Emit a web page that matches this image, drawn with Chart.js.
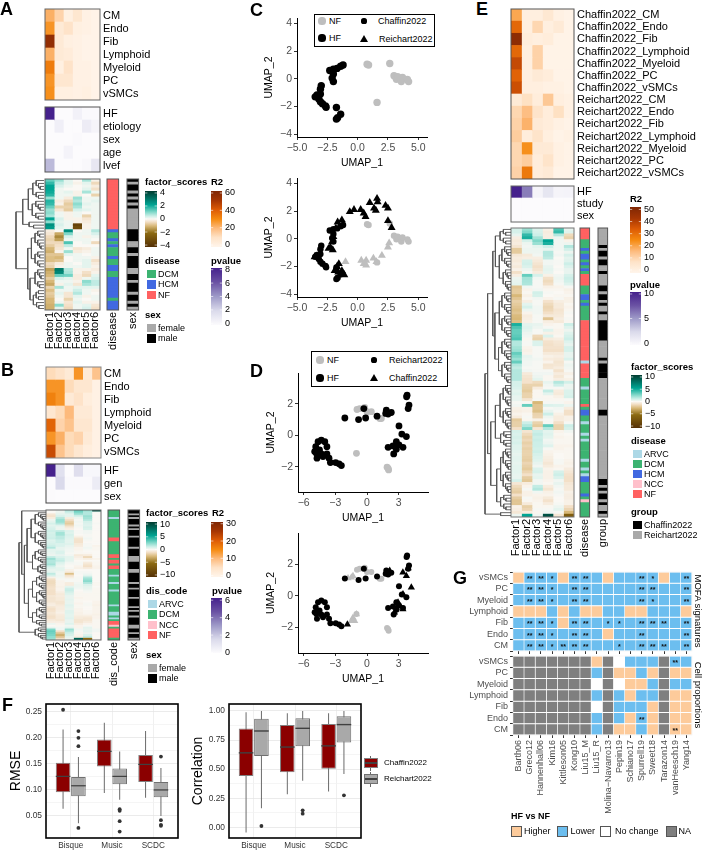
<!DOCTYPE html>
<html>
<head>
<meta charset="utf-8">
<title>MOFA figure</title>
<script src="https://cdn.jsdelivr.net/npm/chart.js@4"></script>
<style>
  html, body { margin: 0; padding: 0; background: #fff; }
  #page { position: relative; width: 704px; height: 850px; overflow: hidden; font-family: "Liberation Sans", Arial, sans-serif; color: #000; }
  .t { position: absolute; line-height: 1; white-space: nowrap; transform: translateY(-50%); }
  .s { position: absolute; box-sizing: border-box; }
</style>
</head>
<body>
<div id="page"></div>
<script>
// ---- data ----
const factors = ['Factor1', 'Factor2', 'Factor3', 'Factor4', 'Factor5', 'Factor6'];
const cellTypes = ['CM', 'Endo', 'Fib', 'Lymphoid', 'Myeloid', 'PC', 'vSMCs'];

// Panel A
const r2A = [[22,14,3,8,2,1],[28,6,10,3,2,1],[55,6,3,2,1,1],[22,6,5,2,1,1],[33,3,10,2,2,1],[28,8,8,2,2,1],[29,3,3,2,3,1]];
const covA = ['HF', 'etiology', 'sex', 'age', 'lvef'];
const pvalA = [[8,0,0,.6,.1,.1],[0,.7,0,0,.9,.4],[0,0,0,.1,0,0],[0,0,.5,0,0,0],[3,0,0,0,.2,1.2]];
const scoresA = [
  [1.2,.8,.2,0,.7,-.1],[1.6,.5,.2,-.1,.2,-.5],[2,.3,.1,0,.1,-.2],[2,.1,0,0,.2,-.4],[1.9,.1,.2,-.1,.7,.1],
  [1.7,.1,.1,-.1,0,-.6],[.8,.1,-.2,.8,.1,.1],[1.7,-.2,-.5,.6,.1,.2],[1.6,-.1,-.7,.9,.2,.1],[1.2,-.6,-.6,.7,.1,.1],
  [.8,-.3,-.7,.3,.2,.1],[.9,.1,-.1,.1,0,.1],[.7,.1,-.1,.1,-.6,.1],[2,.3,-.1,-.1,-.3,.1],[.9,.2,.1,-.1,-.2,.1],
  [2.4,.3,.1,-3.3,-.1,.1],[2.2,.2,.1,-3,-.1,.1],
  [-.2,0,2.4,0,.1,.6],[-.3,-1.2,1,.1,.1,.3],[-.5,-1.6,.3,.1,-.1,.1],[-.6,-1.3,.1,.1,.1,0],[-.5,-.5,1.4,0,.1,-.5],
  [-.7,-.4,.5,0,0,0],[-1,-.3,.1,-.3,-.2,.1],[-1.1,-.1,.8,-.2,-.1,.1],[-.8,-.8,.2,.1,0,.1],[-.9,-1,0,.1,.1,-.1],
  [-.9,-.8,0,.1,.2,-.4],[-.5,-.2,.1,0,.2,-.2],[-.6,-.1,.1,.1,.2,-.1],[-1.3,2.8,.6,-.1,-.1,-.2],[-1.1,2.6,.7,-.1,-.4,-.1],
  [-1,1.2,1.1,-.2,-.5,.2],[-.7,.3,.2,-.2,.1,.3],[-1,.1,.1,-.1,.9,.5],[-1.2,-.1,.2,-.3,.7,.5],[-.6,.7,.1,.2,.2,.2],
  [-.9,.1,.1,.4,.1,-.1],[-.7,.2,-.3,.6,.1,0],[-.8,.1,-.3,.2,-.1,.1],[-1,0,-.6,.1,0,.1],[-1,.1,-.3,.2,-.1,-.1],
  [-1.1,.9,-.4,.1,.2,-.3],[-1.1,.2,-.5,.1,.3,-.4]
];
const diseaseA = 'NNNNNNNNNNNNNNNNNHDDHDHDDDHDDHHDDHHHHHHHDHHH';
const sexA = 'MFMMFMFMFMFFFFFFFMMMMFFMMFMMMMFFMMFMMMFMMFMF';
const treeA = [1,[.76,[.56,[.4,4,3],[.42,4,3]],3],[.58,[.45,[.32,3,4],[.32,3,3]],[.5,[.32,4,3],[.38,[.28,2,2],3]]]];

// Panel B
const r2B = [[6,5,3,14,3,9],[14,14,6,4,4,1],[16,14,3,5,2,1],[4,6,10,3,3,1],[19,7,9,4,4,1],[14,11,6,7,3,1],[22,9,6,4,2,1]];
const covB = ['HF', 'gen', 'sex'];
const pvalB = [[6,1.2,0,1.3,.2,.2],[0,1.5,.1,.1,.1,.7],[.05,0,0,0,0,0]];
const scoresB = [
  [0,.3,1.5,3,2,9],[0,.3,1,2.5,1.5,.1],[-.7,.5,.5,1.8,1.5,0],[-.9,.8,.5,.8,2,0],[-.5,1.5,-.5,.3,1.8,0],
  [.3,2,-1,.1,1.5,0],[.5,2,-1.5,.2,.8,0],[.8,1.5,-1.8,.1,.7,.1],[.5,.6,-1.2,.2,.6,0],[.7,.3,-.6,.1,.8,0],
  [.8,.3,-.3,0,.7,0],[1,1.2,.7,.1,.2,0],[.8,1.8,.6,.1,.2,0],[.9,1.8,.8,0,.1,0],[.9,1.3,.7,-.3,.1,0],
  [1,1.3,.6,-.8,.2,0],[.6,1,.5,-.9,.1,0],[.7,1,.5,-.9,0,0],[.8,.7,.6,-.6,.1,0],[1,.7,.4,-.5,.1,-.2],
  [1.5,.4,.3,-.2,.2,-.1],[.5,.4,.2,-.2,.1,-.1],[.5,.7,.2,-.1,0,0],[.4,.7,.1,-.1,-.1,0],[.3,.4,.2,-.6,-.5,0],
  [1.2,.7,.5,-.4,-1.3,0],[2,1,.5,-.2,-.4,-.2],[1.5,1.2,.5,0,0,0],[1.5,.7,.2,.1,-.5,-.1],[1.8,.5,.1,.1,-.8,-.1],
  [1,.3,0,-.2,-1,-.2],[.6,.5,.1,-.3,-.5,-.2],[.4,.5,-.3,0,0,0],[.5,.3,-.5,.1,.1,0],[1.3,.2,-2.2,.1,.2,0],
  [.8,.3,-.9,0,.5,0],[-.3,.2,-.4,.1,1.5,0],[-1,.1,.1,.1,2,0],[-1.2,-.2,.1,.1,2.3,0],[-1.2,-.2,-.5,.2,1.5,-.1],
  [-1.1,-.2,-.5,.3,.7,-.1],[-1,-.3,.5,.3,.5,0],[-.9,-.2,1,.2,.4,-.1],[-1,-.2,1.1,0,.2,-.1],[-1,-.4,.8,-.1,.1,-.1],
  [-1,-.6,.6,-.1,-.1,-.1],[-.7,-.5,.4,-.1,-.1,-.1],[-.8,-.6,.4,-.2,-.1,-.1],[-.8,-.6,.5,-.1,-.1,-.1],[-.8,-.8,.4,-.1,0,-.2],
  [-.5,-.8,.4,-.2,.1,-.2],[-.4,-.6,.6,-.1,.1,-.3],[-.8,-.5,.5,-.1,0,-.2],[-1,-.5,.4,-.2,0,-.2],[-.9,-.4,.6,-.2,-.1,-.2],
  [-.7,-.3,.6,-.3,-.1,-.2],[-.8,-.5,.5,-.3,-.2,-.3],[-1,-.6,.5,-.5,-.5,-.2],[-.9,-.6,.6,-.6,-.7,-.2],[-.6,-.7,.4,-.8,-.7,-.1],
  [-.4,-.4,.4,-.8,-.5,-.1],[.3,-.2,.6,-.5,-.2,-.1],[0,-.1,.2,-.2,.1,-.1],[.4,.2,.5,-.2,.5,-.1],[2.5,.2,2,.2,.4,.2],
  [3,-1,1.5,.1,.5,.2],[2.8,-2,1,-.1,.3,0],[2.6,-2.8,.8,-.2,.7,0],[2.2,-2,.5,-.4,1.2,0],[2,-1,.3,8,-5,0]
];
const diseaseB = 'DDDDADDDDDDDDDDNNDDDDDDDNNDNNDNNDDDADDDADDDADDDDDDDADDDAADADNNCDNNNNND';
const sexB = 'MMFMFMMMFMFMMMFMMMMMFMMMMFFFMMMMFFMMMMMFMMFMMMMFMMMMFMFMMFMMMMFFMMFMMF';
const treeB = [1,[.9,1,[.8,[.7,[.55,[.4,5,5],[.4,5,5]],[.5,[.4,4,4],[.3,3,3]]],[.65,[.5,[.35,4,4],[.35,5,4]],[.5,[.35,4,3],4]]]],[.4,3,4]];

// Panel C
const cHF = [[-1.2,1],[-1.4,.9],[-1.7,.75],[-2,.7],[-2.3,.6],[-2,.35],[-2.1,.05],[-2,-.2],[-3,-.5],[-3.07,-.75],[-3.07,-1.1],[-3.35,-1.17],[-3.5,-1.3],[-3.2,-1.45],[-3.07,-1.65],[-2.9,-1.8],[-2.65,-1.95],[-2.6,-2.05],[-1.75,-2.07],[-1.4,-2.55],[-1.75,-2.9],[-1.65,-2.8]];
const cNF = [[.78,1.05],[.9,1],[2.65,1.1],[3,.22],[3.2,-.03],[3.6,-.2],[3.7,.1],[4.1,-.05],[4.2,-.2],[3.3,.15],[1.6,-1.7]];
const rHF = [[-3.55,-1.3],[-2.4,-.7],[-2.1,-.2],[-2.25,-.6],[-2.05,-.8],[-2,.15],[-1.8,.75],[-1.65,1.2],[-1.3,1.35],[-.65,1.95],[-.3,2.1],[.25,2.1],[.5,1.85],[.65,1.6],[1,2.6],[1.35,2.2],[1.6,2.9],[1.65,2.65],[1.5,2.05],[2.3,2.4],[2.5,2.2],[2.5,1.3],[2.8,.8],[-1.55,-1.8],[-1.9,-2.3],[-1.6,-2.4],[-1.3,-2.3],[-1.1,-2.6],[-1.7,-2]];
const rNF = [[-1,-1.65],[.3,-1.55],[.7,-1.55],[.5,-1.8],[.7,-1.9],[1.3,-1.4],[1.55,-1.65],[2,-1.2],[2.5,-.6],[2.6,-.3]];

// Panel D
const dReichHF = [[-4.33,-.3],[-4.64,-.4],[-4,-.4],[-4.86,-.72],[-4.96,-1.03],[-4.74,-1.45],[-4.33,-1.18],[-3.8,-.72],[-3.8,-1.18],[-4.17,-1.35],[-3.6,-1.45],[-3.47,-1.73],[-2.97,-1.73],[-2.65,-1.81],[-2.43,-1.92],[-4.5,-.93],[-4.8,-1.14],[-2.1,1.1],[-.8,1],[-.13,1.1],[-.3,1.7],[.95,1.22],[1.83,1.6],[1.77,1.39],[2.3,1.45],[2,1.35],[3.8,2.55],[3.75,2.45],[3.98,1.92],[3.9,1.7],[3.03,.6],[3.3,.08],[3.73,-.08],[2.78,-.4],[2,-.76],[2.46,-.67],[2.53,-1.18],[3.03,-.6],[3.41,-.76],[2.78,-.88]];
const dReichNF = [[-1,-1.14],[1.9,-2.02],[2.05,-2.2],[-.95,1.64],[-.22,1.77],[.41,1.5],[0,1.5],[-.7,1.7],[1.2,1.07],[1.36,1.07],[2,-2.1]];
const dChafHF = [[3.4,1.47],[3.73,1.26],[4.2,.53],[3.41,.1],[2.78,-.74],[3.1,-.63],[2.6,-1.05],[3.4,-.84],[2.94,-.42],[2.15,1.58],[-1.86,-1.8],[2,1.47],[3.9,1.75]];
const dChafNF = [[-1.48,1.16],[-1.8,1.12],[-1.33,1.26],[-1.17,-1.58],[-1.48,-1.58],[-1,-1.16],[-1.33,-1.37]];

// Panel E
const rowsE = ['Chaffin2022_CM','Chaffin2022_Endo','Chaffin2022_Fib','Chaffin2022_Lymphoid','Chaffin2022_Myeloid','Chaffin2022_PC','Chaffin2022_vSMCs','Reichart2022_CM','Reichart2022_Endo','Reichart2022_Fib','Reichart2022_Lymphoid','Reichart2022_Myeloid','Reichart2022_PC','Reichart2022_vSMCs'];
const r2E = [[20,3,3,6,2,1],[31,3,11,3,5,1],[47,4,3,4,1,1],[31,3,12,1,1,1],[37,3,12,1,1,1],[32,3,5,4,1,1],[36,3,3,2,2,1],[5,9,4,14,3,2],[11,16,8,4,9,2],[12,18,5,4,2,1],[13,4,8,3,1,2],[11,24,5,5,2,1],[11,13,4,8,2,1],[12,28,4,5,1,1]];
const covE = ['HF', 'study', 'sex'];
const pvalE = [[10,6,.5,1.6,.5,.6],[0,0,0,0,0,0],[0,0,0,0,0,0]];
const scoresE = [
  [.8,2,.7,-.3,3.5,.4],[.8,2.5,.8,-.5,4,.6],[.4,4,1,-.4,1.5,-1.2],[-.4,4.5,1.8,-.4,.3,-1.5],[-.6,.8,2.5,5,.2,-.2],
  [-.5,.3,2,4.5,.2,.3],[-.8,.2,.5,1,.2,1.5],[-1.8,.3,.3,.4,.2,.9],[-1.8,.3,.3,1.5,.1,.3],[-.7,-.6,.2,1.5,.2,.8],
  [-.5,-.4,-.4,1.3,0,.5],[-.6,.8,-.6,.2,.1,.6],[-.4,.9,-.8,.2,.1,1],[-.6,.7,-1,.4,0,.7],[-.3,.3,-.8,.5,.1,.4],
  [-1,.1,-.5,.4,0,.4],[-.4,3,.8,-.3,.2,.8],[.3,1.8,.2,-1,.3,1],[.4,1.7,.1,-1.2,.2,.9],[.5,1.6,.1,-1,.1,.6],
  [-2,.2,.1,-.3,-.2,.1],[-1.8,-.2,.2,-.1,-.1,-.3],[-1.8,-.1,.9,.1,0,-.2],[-2.5,-.3,.8,0,-.1,-.1],[-2,-.1,.2,-.2,.1,-.3],
  [-1.6,-.4,.1,-.9,-.4,-.3],[-1.8,.5,.1,-1.2,-.6,-.1],[-2,.8,.2,-1.4,-.6,-.2],[-2.2,.3,.2,-1.3,-.8,-.1],[-2,-.2,.2,-1,-.7,.1],
  [-2.4,-.5,.1,-.6,-.6,0],[-2.5,-.4,.1,-2,-.4,.1],[-2.2,-.3,.1,-.4,-.6,-.1],
  [4.5,.5,.4,-.2,-.1,1],[3.5,.6,.3,.1,-.1,.6],[3,.5,.1,.6,-.2,.3],[3,.3,.1,-.3,-.2,.6],[3.2,.2,-1.3,.7,-.1,.8],
  [3.5,-.1,-1.5,-.5,-.4,1],[1.5,.1,.7,-.9,-.7,.6],[1.5,.1,.7,-1,-.8,.4],[1.8,-.2,.1,-.9,-.9,.8],[2,-.3,.1,-1,-1,.8],
  [3,-.2,.1,-.6,-.6,.4],[2.5,.4,.1,-.3,-.4,.4],[2,.3,.2,-.5,-.6,.7],[3,.2,.1,-.2,-.8,.1],[1.5,.2,.1,-.8,-.7,.3],
  [1.2,.1,.1,-.7,-.5,.2],[1.5,.2,.1,.1,-.9,.1],
  [1.5,-.6,.2,.2,-.5,-.3],[1.5,-.8,.3,-.1,-.7,-.1],[1.5,-.9,.5,-.1,-.4,-.3],[.8,-.9,-1.2,.4,1.5,.9],[.8,-1.5,-1.5,.2,1,.3],
  [.7,-1.6,-.5,.1,.1,.3],[.5,-1.8,-.1,1.2,-.5,.7],[.6,-1.5,-.1,.5,-.6,.7],[.4,-1.5,-.1,-.1,-.3,.8],[.4,-.8,.1,-.1,-.1,.1],
  [.1,.1,-2.5,.1,.1,-.2],[.2,3,-2,.7,.6,.3],[-.3,-.2,-2,.1,.2,-.5],[-.4,-.3,-2.2,.4,.1,-1],[-.2,-.1,-1.5,1,-.3,-1],
  [-.5,.1,-1.4,.3,-.5,-.3],[-1.8,-.1,-.3,.1,-.5,-.3],[-1.6,1,-1.5,.1,-1,.1],[-1.6,1.5,-1.8,3,-1.5,1],[-1,2.5,-.7,1.5,-1.5,.8],
  [.8,-.8,1,.5,-.2,.2],[.7,-1.2,1.2,.6,-.1,0],[.8,-1.5,1,.5,-.2,-.1],[.7,-1.3,1.1,.2,-.1,-.1],[.8,-1.6,1,.3,-.1,-.1],
  [.6,-1.4,1,.6,-.2,-.2],[.6,-1.6,.9,.1,-.2,-.1],[.5,-1.5,1,-.2,-.1,-.1],[.4,-1.5,.8,-.3,0,-.1],[.5,-1.6,.7,-.4,0,-.1],
  [.5,-1.7,.6,-.5,.1,-.2],[.4,-1.4,.4,-.7,.1,-.3],[.5,-1.6,.2,-.5,-.2,-.2],[.5,-1.8,.7,-.2,-.1,-.5],[.5,-1.4,.8,-.3,.8,-.7],
  [.4,-1,.4,-.3,1,-.9],[.4,-1.7,.5,-.3,.7,-1],[.8,-1.9,.2,-.2,.2,-1],[-.7,-.5,.2,-.1,.4,-.7],[-1.2,-.2,1.2,-.5,.2,-.6],
  [-1.5,.1,1.5,-.8,.1,-.6],[-1.7,-.3,.2,-.3,.2,-.3],[-1,-.3,-.2,-.2,.1,-.4],[-1.7,.1,-.3,-.6,0,-.4],[-2,-.1,-.2,-.9,0,-.3],
  [-2,-.6,-.1,-.5,.1,-.3],[-.3,-1.6,-.1,-.1,.3,-1],[-.4,-1.4,.1,.1,.5,-1.4],[-.7,-.5,-.1,.2,.1,-2.5],[.3,5,.2,9,-.7,-6]
];
const diseaseE = 'NNNNDDDHDHHDHDHDNNNNDDDHHDHDDDDDNNNNNNNNNNNNNNANNNNNDDDADDDDDNDHHDDADDDADADDDDDDADDADAHHDDDDHDCDDDDD';
const groupE = 'RRRRRRCRCCRCCRRCRRRRCCRCCRCRRCRRCCCCCCCRRRRRRCRCCCCCRRRRRRRRRRRCCRRRRRRRRRRRRRRRRRRRRRRCCRCRCCRCRRCR';
const treeE = [1,[.9,[.7,[.6,[.42,3,3],[.45,[.35,4,4],[.3,4,4]]],[.62,[.45,[.35,4,4],[.35,4,4]],[.48,[.35,4,4],[.35,4,4]]]],[.78,[.6,[.42,[.3,4,4],[.3,4,4]],[.4,3,3]],[.55,[.4,[.3,4,4],[.3,4,4]],[.4,3,3]]]],[.4,1,1]];

// Panel F: [low whisker, q1, median, q3, high whisker] per method
const methods = ['Bisque', 'Music', 'SCDC'];
const rmseChaffin = [[.064,.0955,.126,.152,.216],[.094,.145,.174,.197,.229],[.085,.115,.149,.167,.213]];
const rmseReichart = [[.036,.088,.108,.125,.163],[.081,.111,.126,.141,.174],[.05,.086,.1,.115,.142]];
const rmseOutChaffin = [[0,.254]];
const rmseOutReichart = [[0,.213],[0,.2],[0,.184],[0,.027],[1,.063],[1,.06],[1,.04],[1,.02],[2,.164],[2,.042],[2,.033],[2,.031]];
const corChaffin = [[-.045,.44,.64,.85,.99],[.284,.473,.69,.88,.98],[.307,.504,.7,.888,.98]];
const corReichart = [[.163,.613,.828,.934,1],[.4,.696,.851,.937,1],[.458,.73,.883,.954,1]];
const corOutChaffin = [];
const corOutReichart = [[0,.011],[1,.146],[1,.117],[2,.275]];
const rmseTicks = [.05, .1, .15, .2, .25];
const corTicks = [0, .25, .5, .75, 1];

// Panel G
const studies = ['Barth06','Greco12','Hannenhall06','Kim16','Kittleson05','Kong10','Liu15_M','Liu15_R','Molina\u2212Navarro13','Pepin19','Schiano17','Spurrell19','Sweet18','Tarazon14','vanHeesch19','Yang14'];
const rowsG = ['vSMCs', 'PC', 'Myeloid', 'Lymphoid', 'Fib', 'Endo', 'CM'];
const mofaFill = ['HLLLHLLLHLLLLHLL','LLLLLLLLLLLLLLLL','LLLLLLLLLLLLLLLL','HHHLHLHHLLHHLLLH','LLLLHLLLLLLLLLLL','LLLLLLLLHLLLLLLL','LLLLLLLLLLLLLLLL'];
const mofaStars = ['0221022000021002','0221022000022002','0221022000021002','0000000000000000','0221022011022202','0221022000020002','0221222001022202'];
const cellFill = ['XXXXXXXHXWLLLXLL','XXXXXXXLXHHLHXHH','XXXXXXXWXWHHLXLL','XXXXXXXLXLHLLXHH','XXXXXXXWXLLLHXHH','XXXXXXXLXLHLHXHH','XXXXXXXLXHHLHXHH'];
const cellStars = ['0000000000000020','0000000000000000','0000000000000000','0000000000000000','0000000000000000','0000000000020000','0000000000000020'];

// ---- colours ----
const oranges = [[0,'#FFF5EB'],[.17,'#FEE3C8'],[.33,'#FDBB7E'],[.5,'#F58A10'],[.67,'#DC5A05'],[.83,'#A63603'],[1,'#7F2704']];
const purples = [[0,'#FCFBFD'],[.25,'#DADAEB'],[.5,'#9E9AC8'],[.75,'#6A51A3'],[1,'#45218C']];
const brbg = [[0,'#543005'],[.25,'#8C6A12'],[.375,'#D8B878'],[.45,'#F3E0C8'],[.5,'#FAF8F4'],[.55,'#CDEFE8'],[.625,'#80D8C9'],[.75,'#00A593'],[1,'#003C30']];
const diseaseColors = { A: '#ADD8E6', D: '#3CB371', H: '#4169E1', C: '#FFC0CB', N: '#FF6161' };
const sexColors = { F: '#A9A9A9', M: '#000000' };
const groupColors = { C: '#000000', R: '#A9A9A9' };
const tileColors = { H: '#FDCB9B', L: '#6CBEEF', W: '#FFFFFF', X: '#7F7F7F' };

function rgb(hex) { return [1, 3, 5].map(i => parseInt(hex.slice(i, i + 2), 16)); }
function ramp(stops, t) {
  t = Math.max(0, Math.min(1, t));
  let i = 1;
  while (i < stops.length - 1 && stops[i][0] < t) i++;
  const [t0, c0] = stops[i - 1], [t1, c1] = stops[i];
  const a = rgb(c0), b = rgb(c1), f = (t - t0) / (t1 - t0);
  return `rgb(${a.map((v, k) => Math.round(v + (b[k] - v) * f)).join(',')})`;
}

// ---- helpers ----
Chart.defaults.font.family = '"Liberation Sans", Arial, sans-serif';
Chart.defaults.animation = false;
Chart.defaults.responsive = false;
Chart.defaults.plugins.legend.display = false;
Chart.defaults.plugins.tooltip.enabled = false;

const page = document.getElementById('page');

function place(x, y, w, h) {
  const c = document.createElement('canvas');
  c.width = w; c.height = h;
  c.style.cssText = `position:absolute;left:${x}px;top:${y}px`;
  page.appendChild(c);
  return c;
}

function text(x, y, str, size = 9, opts = {}) {
  const d = document.createElement('div');
  d.className = 't';
  d.textContent = str;
  d.style.cssText = `left:${x}px;top:${y}px;font-size:${size}px;font-weight:${opts.bold ? 'bold' : 'normal'};color:${opts.color || '#000'};z-index:5`;
  page.appendChild(d);
}

function swatch(x, y, w, h, color, border) {
  const d = document.createElement('div');
  d.className = 's';
  d.style.cssText = `left:${x}px;top:${y}px;width:${w}px;height:${h}px;background:${color};z-index:5;${border ? 'border:1px solid ' + border : ''}`;
  page.appendChild(d);
  return d;
}

const framePlugin = (color, width) => ({
  id: 'frame',
  afterDatasetsDraw(chart) {
    const a = chart.chartArea, ctx = chart.ctx;
    ctx.save();
    ctx.strokeStyle = color; ctx.lineWidth = width;
    ctx.strokeRect(a.left, a.top, a.width, a.height);
    ctx.restore();
  }
});

// grid of cells as stacked horizontal bars, one dataset per column
function heatmap(box, rowLabels, colLabels, colorAt, o = {}) {
  const mL = o.mL || 0, mR = o.mR || 0, mB = o.mB || 0;
  const pX = 16, pY = 14; // room so edge labels do not shrink the plot area
  const nCol = colLabels.length;
  const datasets = colLabels.map((_, c) => ({
    data: rowLabels.map(() => 1),
    backgroundColor: rowLabels.map((_, r) => colorAt(r, c)),
    borderWidth: o.gap || 0,
    borderColor: '#fff',
    inflateAmount: o.gap ? 0 : 'auto',
    barPercentage: 1,
    categoryPercentage: 1
  }));
  const tickGrid = o.ticks ? { drawOnChartArea: false, drawTicks: true, tickLength: 3, color: '#333' } : { display: false, drawTicks: false };
  const plugins = [framePlugin(o.frame || '#555', o.frameWidth === undefined ? 1 : o.frameWidth)];
  if (o.stars) plugins.push({
    id: 'stars',
    afterDatasetsDraw(chart) {
      const ctx = chart.ctx, sx = chart.scales.x, sy = chart.scales.y;
      ctx.save();
      ctx.font = 'bold 7px "Liberation Sans"';
      ctx.fillStyle = '#111'; ctx.textAlign = 'center'; ctx.textBaseline = 'middle';
      o.stars.forEach((row, r) => [...row].forEach((s, c) => {
        if (s !== '0') ctx.fillText('*'.repeat(+s), sx.getPixelForValue(c + .5), sy.getPixelForValue(r) + 1.5);
      }));
      ctx.restore();
    }
  });
  return new Chart(place(box.x - mL - pX, box.y - pY, box.w + mL + mR + 2 * pX, box.h + mB + 2 * pY), {
    type: 'bar',
    data: { labels: rowLabels, datasets },
    options: {
      indexAxis: 'y',
      layout: { padding: { left: pX, right: pX, top: pY, bottom: pY } },
      scales: {
        x: {
          type: 'linear', stacked: true, min: 0, max: nCol,
          display: !!(o.showCols || o.ticks),
          position: 'bottom',
          border: { display: false },
          grid: tickGrid,
          afterBuildTicks: s => { s.ticks = colLabels.map((_, i) => ({ value: i + .5 })); },
          afterFit: s => { s.height = mB; },
          ticks: {
            display: !!o.showCols, autoSkip: false, minRotation: 90, maxRotation: 90, padding: 2,
            color: o.labelColor || '#000', font: { size: o.font || 11 },
            callback: (v, i) => colLabels[i]
          }
        },
        y: {
          type: 'category', stacked: true, offset: true,
          display: !!o.side,
          position: o.side || 'right',
          border: { display: false },
          grid: tickGrid,
          afterFit: s => { s.width = o.side === 'left' ? mL : mR; },
          ticks: { autoSkip: false, padding: o.ticks ? 2 : 3, color: o.labelColor || '#000', font: { size: o.font || 11 } }
        }
      }
    },
    plugins
  });
}

// single column strip next to a heatmap, from a per-row code string
function strip(box, codes, colors, label) {
  heatmap(box, [...codes].map((_, i) => String(i)), [label], (r) => colors[codes[r]], { mB: 52, showCols: true });
}

// dendrogram from a nested [height, left, right] tree, leaves counted as plain numbers
function dendrogram(box, tree, nRows) {
  const pts = [];
  let next = 0;
  function walk(node, parentH) {
    if (typeof node === 'number') {
      if (node === 1) return { h: 0, y: .5 + next++ };
      return walk([parentH * .7, 1, node - 1], parentH);
    }
    const [h, a, b] = node;
    const A = walk(a, h), B = walk(b, h);
    pts.push({ x: A.h, y: A.y }, { x: h, y: A.y }, { x: h, y: B.y }, { x: B.h, y: B.y }, { x: NaN, y: NaN });
    return { h, y: (A.y + B.y) / 2 };
  }
  walk(tree, 1);
  return new Chart(place(box.x - 1, box.y, box.w + 1, box.h), {
    type: 'scatter',
    data: { datasets: [{ data: pts, showLine: true, spanGaps: false, borderColor: '#555', borderWidth: .9, pointRadius: 0, clip: false }] },
    options: {
      layout: { padding: { left: 1 } },
      scales: {
        x: { type: 'linear', display: false, reverse: true, min: 0, max: 1 },
        y: { type: 'linear', display: false, reverse: true, min: 0, max: nRows }
      }
    }
  });
}

// vertical colour bar: a floating bar filled with the ramp, ticks on a real axis
function colorbar(box, lo, hi, ticks, stops) {
  const pad = 10;
  new Chart(place(box.x, box.y - pad, box.w + 30, box.h + 2 * pad), {
    type: 'bar',
    data: {
      labels: [''],
      datasets: [{
        data: [[lo, hi]],
        barPercentage: 1, categoryPercentage: 1, borderWidth: 0,
        backgroundColor: c => {
          const a = c.chart.chartArea;
          if (!a) return stops[0][1];
          const g = c.chart.ctx.createLinearGradient(0, a.bottom, 0, a.top);
          stops.forEach(([t, col]) => g.addColorStop(t, col));
          return g;
        }
      }]
    },
    options: {
      layout: { padding: { top: pad, bottom: pad } },
      scales: {
        x: { display: false },
        y: {
          type: 'linear', position: 'right', min: lo, max: hi,
          border: { display: false },
          grid: { display: false, drawTicks: false },
          afterBuildTicks: s => { s.ticks = ticks.map(value => ({ value })); },
          afterFit: s => { s.width = 30; },
          ticks: { padding: 3, autoSkip: false, color: '#000', font: { size: 9 }, callback: v => String(v).replace('-', '\u2212') }
        }
      }
    },
    plugins: [{
      id: 'barTicks',
      afterDatasetsDraw(chart) {
        const ctx = chart.ctx, a = chart.chartArea, sy = chart.scales.y;
        ctx.save();
        ctx.strokeStyle = '#fff'; ctx.lineWidth = .6;
        ticks.forEach(v => {
          const p = sy.getPixelForValue(v);
          ctx.beginPath();
          ctx.moveTo(a.left, p); ctx.lineTo(a.left + a.width / 5, p);
          ctx.moveTo(a.right - a.width / 5, p); ctx.lineTo(a.right, p);
          ctx.stroke();
        });
        ctx.restore();
      }
    }]
  });
}

const toXY = list => list.map(([x, y]) => ({ x, y }));
const minus = v => String(v).replace('-', '\u2212');

// UMAP scatter, classic left/bottom axes
function umap(box, lim, xTicks, yTicks, xFmt, yTitleX, sets) {
  const mL = 40, mB = 34, mT = 10, mR = 14;
  const cx = box.x - mL;
  const lh = 10.5 * 1.2;
  new Chart(place(cx, box.y - mT, box.w + mL + mR, box.h + mT + mB), {
    type: 'scatter',
    data: {
      datasets: sets.map(s => ({
        data: toXY(s.data), backgroundColor: s.color, borderWidth: 0,
        pointStyle: s.shape, pointRadius: s.r, clip: false
      }))
    },
    options: {
      layout: { padding: { top: mT, right: mR } },
      scales: {
        x: {
          type: 'linear', min: lim[0], max: lim[1],
          border: { display: true, color: '#000', width: 1 },
          grid: { drawOnChartArea: false, drawTicks: true, tickLength: 3, color: '#333' },
          afterBuildTicks: s => { s.ticks = xTicks.map(value => ({ value })); },
          afterFit: s => { s.height = mB; },
          ticks: { padding: 2, autoSkip: false, color: '#4d4d4d', font: { size: 10.5 }, maxRotation: 0, callback: xFmt },
          title: { display: true, text: 'UMAP_1', color: '#000', font: { size: 10.5 }, padding: { top: 0, bottom: 2 } }
        },
        y: {
          type: 'linear', min: lim[2], max: lim[3],
          border: { display: true, color: '#000', width: 1 },
          grid: { drawOnChartArea: false, drawTicks: true, tickLength: 3, color: '#333' },
          afterBuildTicks: s => { s.ticks = yTicks.map(value => ({ value })); },
          afterFit: s => { s.width = mL; },
          ticks: { padding: 2, autoSkip: false, color: '#4d4d4d', font: { size: 10.5 }, callback: minus },
          title: { display: true, text: 'UMAP_2', color: '#000', font: { size: 10.5 }, padding: { top: yTitleX - cx - lh / 2, bottom: 0 } }
        }
      }
    }
  });
}

// boxplots: thin floating bar = whisker, wide = box, flat = median; points = outliers
function boxplot(box, title, titleX, lim, majors, minors, fmt, seriesA, seriesB, outA, outB, medianHalf) {
  const mL = 44, mB = 14, mT = 12, mR = 6;
  const cx = box.x - mL;
  const shift = .186;
  const group = (series, fill, edge, stack) => [
    { type: 'bar', stack, data: series.map((s, i) => ({ x: i, y: [s[2] - medianHalf, s[2] + medianHalf] })), backgroundColor: '#404040', borderWidth: 0 },
    { type: 'bar', stack, data: series.map((s, i) => ({ x: i, y: [s[1], s[3]] })), backgroundColor: fill, borderColor: edge, borderWidth: 1, borderSkipped: false },
    { type: 'bar', stack, data: series.map((s, i) => ({ x: i, y: [s[0], s[4]] })), backgroundColor: '#6b6b6b', borderWidth: 0, maxBarThickness: 1, inflateAmount: 0 }
  ];
  const outliers = (list, dx) => ({
    type: 'scatter', data: list.map(([i, y]) => ({ x: i + dx, y })),
    backgroundColor: '#333', borderWidth: 0, pointRadius: 1.9
  });
  const datasets = [
    outliers(outA, -shift), outliers(outB, shift),
    ...group(seriesA, '#8B0000', '#808080', 'a'),
    ...group(seriesB, '#A9A9A9', '#707070', 'b')
  ].map(d => (d.type === 'bar' ? { ...d, categoryPercentage: .745, barPercentage: .95 } : d));
  new Chart(place(cx, box.y - mT, box.w + mL + mR, box.h + mT + mB), {
    data: { datasets },
    options: {
      layout: { padding: { top: mT, right: mR } },
      scales: {
        x: {
          type: 'linear', min: -.6, max: 2.6, offset: false,
          border: { display: false },
          grid: { offset: false, color: '#ececec', lineWidth: .8, drawTicks: false },
          afterBuildTicks: s => { s.ticks = methods.map((_, i) => ({ value: i })); },
          afterFit: s => { s.height = mB; },
          ticks: { padding: 3, color: '#333', font: { size: 8.2 }, maxRotation: 0, callback: (v, i) => methods[i] }
        },
        y: {
          type: 'linear', min: lim[0], max: lim[1], stacked: false,
          border: { display: false },
          grid: { color: c => (majors.includes(c.tick.value) ? '#e6e6e6' : '#f3f3f3'), lineWidth: .8, drawTicks: false },
          afterBuildTicks: s => { s.ticks = [...majors, ...minors].map(value => ({ value })); },
          afterFit: s => { s.width = mL; },
          ticks: { padding: 4, color: '#333', font: { size: 8.4 }, autoSkip: false, callback: v => (majors.includes(v) ? fmt(v) : '') },
          title: { display: true, text: title, color: '#000', font: { size: 14 }, padding: { top: titleX - cx - 8.4, bottom: 0 } }
        }
      }
    },
    plugins: [framePlugin('#000', 1.6)]
  });
}

function scoreAt(values, d) { return (r, c) => ramp(brbg, (values[r][c] / d + 1) / 2); }
function seqAt(values, stops, d) { return (r, c) => ramp(stops, values[r][c] / d); }
const blank = n => Array.from({ length: n }, (_, i) => String(i));

function legendList(x, y, title, items, step = 10.3) {
  text(x, y, title, 9.5, { bold: true });
  items.forEach(([label, color], i) => {
    const cy = y + 13 + i * step;
    swatch(x + 1, cy - 5, 10.5, 10.3, color, '#fff');
    text(x + 13, cy, label, 9);
  });
}

// ---- panel letters ----
[['A', 0, 9], ['B', 1, 370], ['C', 250, 10], ['D', 250, 371], ['E', 476, 9], ['F', 2, 705], ['G', 453, 578]]
  .forEach(([l, x, y]) => text(x, y, l, 18, { bold: true }));

// ---- panel A ----
heatmap({ x: 44.5, y: 8.5, w: 55.5, h: 91.5 }, cellTypes, factors, seqAt(r2A, oranges, 60), { side: 'right', mR: 60, frame: '#666' });
heatmap({ x: 44.5, y: 107, w: 55.5, h: 65 }, covA, factors, seqAt(pvalA, purples, 8), { side: 'right', mR: 60 });
heatmap({ x: 44.5, y: 179, w: 55.5, h: 131 }, blank(scoresA.length), factors, scoreAt(scoresA, 4), { showCols: true, mB: 42, frame: '#666' });
dendrogram({ x: 16, y: 179, w: 28.5, h: 131 }, treeA, scoresA.length);
strip({ x: 106.5, y: 179, w: 13.5, h: 131 }, diseaseA, diseaseColors, 'disease');
strip({ x: 126.5, y: 179, w: 13, h: 131 }, sexA, sexColors, 'sex');
text(145, 182, 'factor_scores', 9.5, { bold: true });
colorbar({ x: 145, y: 191, w: 12, h: 56 }, -4.3, 4.3, [4, 2, 0, -2, -4], brbg);
text(211, 182, 'R2', 9.5, { bold: true });
colorbar({ x: 211, y: 191, w: 11, h: 56 }, -2.3, 62.3, [60, 40, 20, 0], oranges);
legendList(145, 261, 'disease', [['DCM', diseaseColors.D], ['HCM', diseaseColors.H], ['NF', diseaseColors.N]]);
text(211, 261, 'pvalue', 9.5, { bold: true });
colorbar({ x: 211, y: 268, w: 11, h: 57 }, -.25, 8.25, [8, 6, 4, 2, 0], purples);
legendList(145, 315, 'sex', [['female', sexColors.F], ['male', sexColors.M]]);

// ---- panel B ----
heatmap({ x: 46, y: 367, w: 55.5, h: 91 }, cellTypes, factors, seqAt(r2B, oranges, 30), { side: 'right', mR: 60, frame: '#888' });
heatmap({ x: 46, y: 464, w: 55.5, h: 39 }, covB, factors, seqAt(pvalB, purples, 6), { side: 'right', mR: 60, frame: '#444' });
heatmap({ x: 46, y: 510, w: 55.5, h: 130 }, blank(scoresB.length), factors, scoreAt(scoresB, 10), { showCols: true, mB: 42, frame: '#666' });
dendrogram({ x: 19, y: 510, w: 27, h: 130 }, treeB, scoresB.length);
strip({ x: 108, y: 510, w: 13, h: 130 }, diseaseB, diseaseColors, 'dis_code');
strip({ x: 127.5, y: 510, w: 13.5, h: 130 }, sexB, sexColors, 'sex');
text(146, 513, 'factor_scores', 9.5, { bold: true });
colorbar({ x: 146, y: 522, w: 11, h: 55 }, -10.8, 10.8, [10, 5, 0, -5, -10], brbg);
text(212, 513, 'R2', 9.5, { bold: true });
colorbar({ x: 211, y: 522, w: 12, h: 55 }, -.8, 31, [30, 20, 10, 0], oranges);
legendList(146, 591, 'dis_code', [['ARVC', diseaseColors.A], ['DCM', diseaseColors.D], ['NCC', diseaseColors.C], ['NF', diseaseColors.N]]);
text(212, 591, 'pvalue', 9.5, { bold: true });
colorbar({ x: 211, y: 598, w: 11, h: 55 }, -.05, 6.25, [6, 4, 2, 0], purples);
legendList(146, 655, 'sex', [['female', sexColors.F], ['male', sexColors.M]]);

// ---- panel C ----
const fmt1 = v => minus(v.toFixed(1));
const cLim = [-5, 5.72, -4.19, 4.38];
umap({ x: 296.7, y: 18, w: 130, h: 119 }, cLim, [-5, -2.5, 0, 2.5, 5], [-4, -2, 0, 2, 4], fmt1, 269, [
  { data: cHF, color: '#000', shape: 'circle', r: 3.7 },
  { data: cNF, color: '#BEBEBE', shape: 'circle', r: 3.7 }
]);
umap({ x: 296.7, y: 178, w: 130, h: 119.7 }, cLim, [-5, -2.5, 0, 2.5, 5], [-4, -2, 0, 2, 4], fmt1, 269, [
  { data: rHF, color: '#000', shape: 'triangle', r: 4.6 },
  { data: cHF, color: '#000', shape: 'circle', r: 3.2 },
  { data: rNF, color: '#BEBEBE', shape: 'triangle', r: 4.6 },
  { data: cNF, color: '#BEBEBE', shape: 'circle', r: 3.2 }
]);

function umapLegend(x, y, w, h, items) {
  const b = swatch(x, y, w, h, '#fff', '#000');
  b.style.borderWidth = '1.2px';
  items.forEach(it => {
    text(it.tx, it.y, it.label, 9);
    if (it.shape === 'tri') {
      const t = swatch(it.mx - 4, it.y - 4, 0, 0, 'transparent');
      t.style.borderLeft = '4.2px solid transparent';
      t.style.borderRight = '4.2px solid transparent';
      t.style.borderBottom = '7.5px solid #000';
    } else {
      const d = swatch(it.mx - it.r, it.y - it.r, it.r * 2, it.r * 2, it.color);
      d.style.borderRadius = '50%';
    }
  });
}
umapLegend(314, 14, 121, 33, [
  { label: 'NF', tx: 329, y: 21, mx: 322, r: 3.6, color: '#BEBEBE' },
  { label: 'HF', tx: 329, y: 38, mx: 322, r: 3.6, color: '#000' },
  { label: 'Chaffin2022', tx: 378, y: 21, mx: 364, r: 2.6, color: '#000' },
  { label: 'Reichart2022', tx: 379, y: 39, mx: 364, shape: 'tri' }
]);

// ---- panel D ----
const dLim = [-6.54, 5.78, -3.6, 3.96];
umap({ x: 298.3, y: 372.7, w: 130, h: 119.6 }, dLim, [-6, -3, 0, 3], [-2, 0, 2], minus, 271, [
  { data: dReichHF, color: '#000', shape: 'circle', r: 3.4 },
  { data: dReichNF, color: '#BEBEBE', shape: 'circle', r: 3.4 }
]);
umap({ x: 298.3, y: 532.7, w: 130, h: 120 }, dLim, [-6, -3, 0, 3], [-2, 0, 2], minus, 271, [
  { data: dChafHF, color: '#000', shape: 'triangle', r: 4.2 },
  { data: dReichHF, color: '#000', shape: 'circle', r: 3 },
  { data: dChafNF, color: '#BEBEBE', shape: 'triangle', r: 4.2 },
  { data: dReichNF, color: '#BEBEBE', shape: 'circle', r: 3 }
]);
umapLegend(311, 351, 137, 36, [
  { label: 'NF', tx: 327, y: 360, mx: 320, r: 3.6, color: '#BEBEBE' },
  { label: 'HF', tx: 327, y: 378, mx: 320, r: 3.6, color: '#000' },
  { label: 'Reichart2022', tx: 389, y: 360, mx: 374, r: 2.6, color: '#000' },
  { label: 'Chaffin2022', tx: 389, y: 378, mx: 374, shape: 'tri' }
]);

// ---- panel E ----
heatmap({ x: 510.7, y: 8.7, w: 63.3, h: 170.6 }, rowsE, factors, seqAt(r2E, oranges, 50), { side: 'right', mR: 125, frame: '#555' });
heatmap({ x: 510.7, y: 185.7, w: 63.3, h: 36.6 }, covE, factors, seqAt(pvalE, purples, 10), { side: 'right', mR: 50, frame: '#666' });
heatmap({ x: 510.7, y: 228.3, w: 63.3, h: 289.4 }, blank(scoresE.length), factors, scoreAt(scoresE, 10), { showCols: true, mB: 42, frame: '#777' });
dendrogram({ x: 484.7, y: 228.3, w: 26, h: 289.4 }, treeE, scoresE.length);
strip({ x: 580, y: 228.3, w: 12.3, h: 289.4 }, diseaseE, diseaseColors, 'disease');
strip({ x: 598.3, y: 228.3, w: 12.4, h: 289.4 }, groupE, groupColors, 'group');
text(630, 199, 'R2', 9.5, { bold: true });
colorbar({ x: 630, y: 207, w: 11, h: 66 }, -2.5, 52, [50, 40, 30, 20, 10, 0], oranges);
text(630, 285, 'pvalue', 9.5, { bold: true });
colorbar({ x: 630, y: 292, w: 11, h: 53 }, -.4, 10.4, [10, 5, 0], purples);
text(631, 367, 'factor_scores', 9.5, { bold: true });
colorbar({ x: 631, y: 375, w: 11, h: 53 }, -10.8, 10.8, [10, 5, 0, -5, -10], brbg);
legendList(631, 441, 'disease', [['ARVC', diseaseColors.A], ['DCM', diseaseColors.D], ['HCM', diseaseColors.H], ['NCC', diseaseColors.C], ['NF', diseaseColors.N]], 10);
legendList(631, 512, 'group', [['Chaffin2022', groupColors.C], ['Reichart2022', groupColors.R]], 10);

// ---- panel F ----
boxplot({ x: 45.7, y: 704, w: 132.6, h: 134 }, 'RMSE', 15.7, [.0077, .265], rmseTicks, [.075, .125, .175, .225], v => v.toFixed(2),
  rmseChaffin, rmseReichart, rmseOutChaffin, rmseOutReichart, .0012);
boxplot({ x: 228.7, y: 704, w: 132, h: 134 }, 'Correlation', 198, [-.092, 1.06], corTicks, [.125, .375, .625, .875], v => v.toFixed(2),
  corChaffin, corReichart, corOutChaffin, corOutReichart, .006);
[['Chaffin2022', 763, '#8B0000', '#808080'], ['Reichart2022', 779, '#A9A9A9', '#707070']].forEach(([label, y, fill, edge]) => {
  swatch(370, y - 7.5, 1, 15, '#666');
  swatch(364, y - 5, 13.5, 10, fill, edge);
  swatch(364.5, y - .6, 12.5, 1.2, '#404040');
  text(384, y, label, 8);
});

// ---- panel G ----
const gBox1 = { x: 512.7, y: 571.7, w: 179, h: 79 };
const gBox2 = { x: 512.7, y: 655.7, w: 179, h: 79.3 };
heatmap(gBox1, rowsG, studies, (r, c) => tileColors[mofaFill[r][c]], { side: 'left', mL: 60, mB: 4, ticks: true, gap: .5, frame: '#eee', frameWidth: .5, font: 9, labelColor: '#4d4d4d', stars: mofaStars });
heatmap(gBox2, rowsG, studies, (r, c) => tileColors[cellFill[r][c]], { side: 'left', mL: 60, mB: 82, ticks: true, showCols: true, gap: .5, frame: '#eee', frameWidth: .5, font: 9, labelColor: '#4d4d4d', stars: cellStars });
[['MOFA signatures', 611], ['Cell proportions', 695]].forEach(([label, y]) => {
  const d = document.createElement('div');
  d.className = 't';
  d.textContent = label;
  d.style.cssText = `left:697.5px;top:${y}px;font-size:9.5px;transform:translate(-50%,-50%) rotate(90deg)`;
  page.appendChild(d);
});
text(511, 816, 'HF vs NF', 9, { bold: true });
[['Higher', 510.5, tileColors.H, 524], ['Lower', 557, tileColors.L, 570.5], ['No change', 600, tileColors.W, 615], ['NA', 666, tileColors.X, 678.5]].forEach(([label, x, color, tx]) => {
  swatch(x, 826, 11, 10.5, color, '#555');
  text(tx, 831, label, 9);
});
</script>
</body>
</html>
